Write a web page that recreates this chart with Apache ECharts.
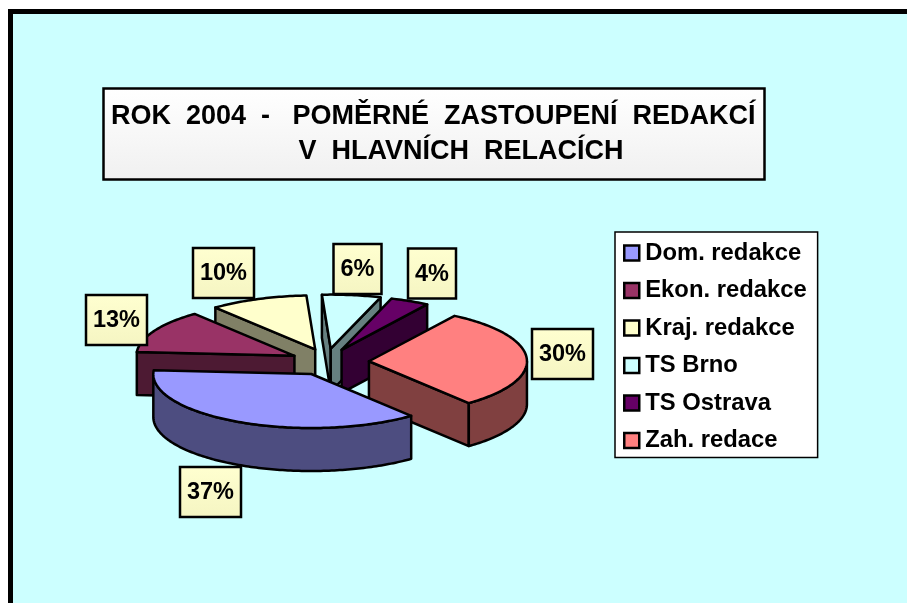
<!DOCTYPE html>
<html><head><meta charset="utf-8">
<style>html,body{margin:0;padding:0;background:#fff}#c{width:907px;height:603px}</style>
<script src="https://cdn.jsdelivr.net/npm/echarts@6/dist/echarts.min.js"></script>
</head><body><div id="c"></div>
<script>
// Data
const categories = ['Dom. redakce','Ekon. redakce','Kraj. redakce','TS Brno','TS Ostrava','Zah. redace'];
const shares = [37,13,10,6,4,30];
const topColors = ['#9999ff','#993366','#ffffcc','#ccffff','#660066','#ff8080'];
const sideColors = ['#4d4d80','#4d1a33','#808066','#668080','#330033','#804040'];
const labelCenters = [[210.5,492],[116.5,320],[223.5,273],[357.5,269],[432,273.5],[562.5,354]];
const sliceShiftX = [0,0,0,-4,-5,0];
const paintOrder = [2,3,4,5,1,0];
const titleLines = ['ROK  2004  -   POMĚRNÉ  ZASTOUPENÍ  REDAKCÍ','                         V  HLAVNÍCH  RELACÍCH'];

// Pie geometry
const C = {x:329.5,y:362,rx:158,ry:54,depth:43,explode:0.25,startDeg:140.8,line:2.5};
const rad = d=>d*Math.PI/180;
const total = shares.reduce((a,b)=>a+b,0);
function angleRange(i){
  let a = C.startDeg;
  for(let k=0;k<i;k++) a += shares[k]/total*360;
  return [a, a+shares[i]/total*360];
}
const rim=(o,t,dy)=>[o[0]+C.rx*Math.sin(rad(t)), o[1]-C.ry*Math.cos(rad(t))+(dy||0)];
function arc(o,a,b,dy){ const p=[]; const n=Math.max(2,Math.ceil(Math.abs(b-a))); for(let j=0;j<=n;j++) p.push(rim(o,a+(b-a)*j/n,dy)); return p; }

function renderSlice(i){
  return function(params, api){
    const [t0,t1] = angleRange(i);
    const mid=(t0+t1)/2;
    const o=[C.x+sliceShiftX[i]+C.explode*C.rx*Math.sin(rad(mid)), C.y-C.explode*C.ry*Math.cos(rad(mid))];
    const stroke={stroke:'#000',lineWidth:C.line,lineJoin:'round'};
    const side={fill:sideColors[i],...stroke};
    const kids=[];
    const wall=t=>{const r=rim(o,t); return {type:'polygon',shape:{points:[o,r,[r[0],r[1]+C.depth],[o[0],o[1]+C.depth]]},style:side};};
    if(Math.sin(rad(t0))<0) kids.push(wall(t0));
    if(Math.sin(rad(t1))>0) kids.push(wall(t1));
    // outer rim wall: the part of the arc that faces the viewer (90..270 degrees, either turn)
    [0,360].forEach(turn=>{
      const a=Math.max(t0-turn,90), b=Math.min(t1-turn,270);
      if(b>a){
        const pts=arc(o,a,b,0).concat(arc(o,b,a,C.depth));
        kids.push({type:'polygon',shape:{points:pts},style:side});
      }
    });
    kids.push({type:'polygon',shape:{points:[o].concat(arc(o,t0,t1,0))},style:{fill:topColors[i],...stroke}});
    const lc=labelCenters[i];
    const w=String(shares[i]).length>1?61:48, h=50;
    kids.push({type:'rect',shape:{x:lc[0]-w/2,y:lc[1]-h/2,width:w,height:h},z2:50,
      style:{fill:new echarts.graphic.LinearGradient(0,0,0,1,[{offset:0,color:'#ffffd0'},{offset:1,color:'#f5f5c2'}]),stroke:'#000',lineWidth:2.5}});
    kids.push({type:'text',z2:51,style:{text:shares[i]+'%',x:lc[0],y:lc[1]+1,align:'center',verticalAlign:'middle',
      font:'bold 23.5px "Liberation Sans"',fill:'#000'}});
    return {type:'group',children:kids};
  };
}

const chart = echarts.init(document.getElementById('c'),null,{renderer:'canvas'});
chart.setOption({
  backgroundColor:'#ffffff',
  animation:false,
  title:{
    text:titleLines.join('\n'),left:103,top:88,
    padding:[11,9,11,8],
    borderColor:'#000',borderWidth:2.5,
    backgroundColor:new echarts.graphic.LinearGradient(0,0,0,1,[{offset:0,color:'#ffffff'},{offset:1,color:'#f0f0f0'}]),
    textStyle:{fontFamily:'Liberation Sans',fontWeight:'bold',fontSize:27,lineHeight:35,color:'#000'}
  },
  legend:{
    orient:'vertical',left:615,top:232,
    data:categories,icon:'rect',itemWidth:15,itemHeight:15,itemGap:13.5,
    padding:[9,11,5,8],
    backgroundColor:'#ffffff',borderColor:'#000',borderWidth:1.5,
    itemStyle:{borderColor:'#000',borderWidth:2.5},
    textStyle:{fontFamily:'Liberation Sans',fontWeight:'bold',fontSize:23.8,color:'#000',padding:[0,0,0,1]}
  },
  graphic:[
    {type:'rect',z:-10,silent:true,shape:{x:10.5,y:11.5,width:920,height:620},style:{fill:'#ccffff',stroke:'#000',lineWidth:5}}
  ],
  series:paintOrder.map((i,order)=>({
    type:'custom',name:categories[i],coordinateSystem:'none',z:2+order,
    itemStyle:{color:topColors[i]},
    data:[shares[i]],
    renderItem:renderSlice(i),
    silent:true
  }))
});
</script></body></html>
